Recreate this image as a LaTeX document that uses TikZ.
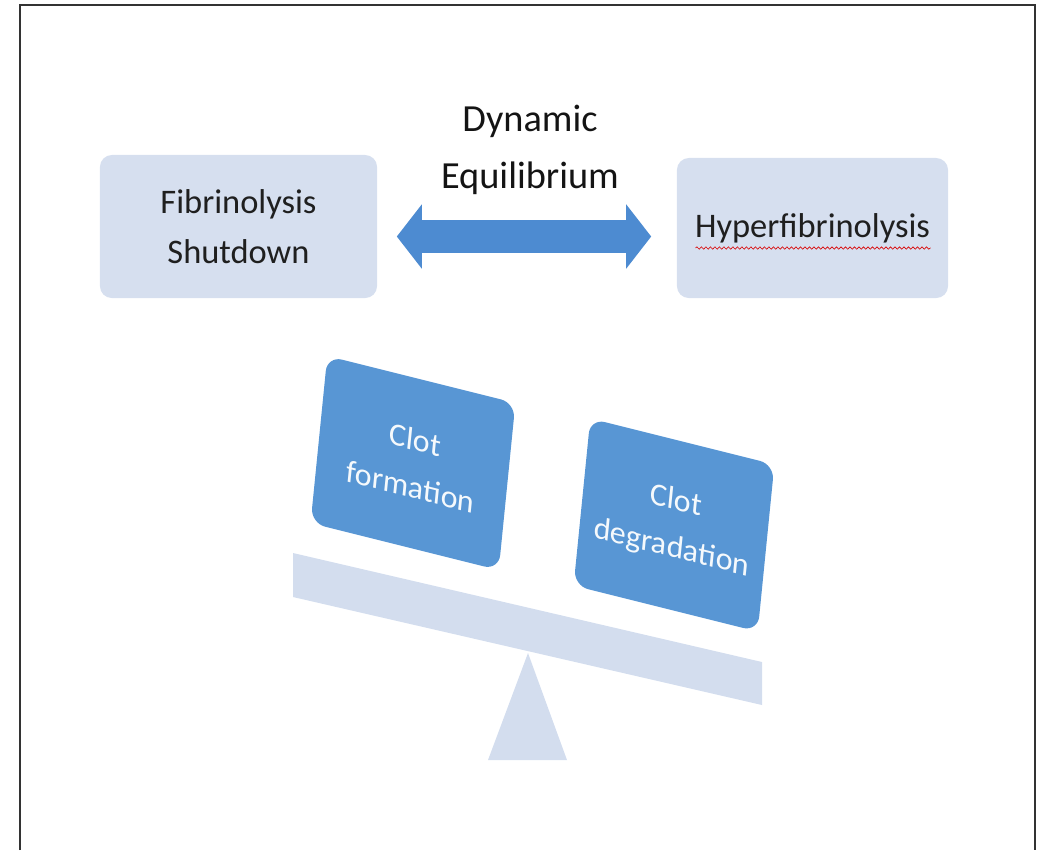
\documentclass[tikz,border=0pt]{standalone}
\usepackage{fontspec}
\setmainfont{Carlito}
\usetikzlibrary{calc, arrows.meta, decorations.pathmorphing}

\definecolor{paleblue}{HTML}{D6DFEF}
\definecolor{beamblue}{HTML}{D3DDEE}
\definecolor{clotblue}{HTML}{5896D4}
\definecolor{arrowblue}{HTML}{4D8BD1}

\begin{document}
\begin{tikzpicture}[x=0.01cm, y=-0.01cm,
    softbox/.style={fill=paleblue, rounded corners=0.12cm, inner sep=0pt, align=center,
        text=black!88, font=\fontsize{9.8}{14.2}\selectfont},
    clotbox/.style={fill=clotblue, rounded corners=0.15cm, inner sep=0pt, align=center,
        minimum width=1.88cm, minimum height=1.67cm, transform shape,
        text=white!94!clotblue, font=\fontsize{9}{13.4}\selectfont}]
    \def\tilt{-0.25}
    \def\lean{0.1}

    \useasboundingbox (0,0) rectangle (1048,850);

    %frame
    \draw[line width=0.02cm, black!80] (20,850) -- (20,4.5) -- (1035,4.5) -- (1035,850);

    %top boxes
    \node[softbox, minimum width=2.77cm, minimum height=1.43cm] (fib) at (238.5,226.5) {Fibrinolysis\\Shutdown};
    \node[softbox, minimum width=2.71cm, minimum height=1.40cm] (hyper) at (812.5,228) {Hyperfibrinolysis};
    \draw[red!85!black, line width=0.006cm, decorate, decoration={snake, amplitude=0.012cm, segment length=0.045cm}]
        (hyper.center) ++(-117,20) -- ++(235,0);

    %double arrow
    \node[inner sep=0pt, align=center, text=black!92, font=\fontsize{10.9}{16.2}\selectfont] (equil) at (530,150) {Dynamic\\Equilibrium};
    \draw[arrowblue, line width=0.33cm,
        {Triangle[length=0.25cm, width=0.63cm]}-{Triangle[length=0.25cm, width=0.63cm]},
        shorten <=0.19cm, shorten >=0.25cm]
        ([yshift=-0.1cm]fib.east) -- ([yshift=-0.1cm]fib.east -| hyper.west);

    %seesaw
    \coordinate (L) at (293,553);
    \fill[beamblue] (L) -- ++(469,109) coordinate (R) -- ++(0,43) -- ++(-469,-108) -- cycle;
    \coordinate (T) at (528,653);
    \fill[beamblue] (T) -- ++(39,107) -- ++(-79,0) -- cycle;

    %weights
    \begin{scope}[shift={(413,463)}, cm={1,\tilt,\lean,1,(0,0)}]
        \node[clotbox] (formation) at (0,0) {Clot\\formation};
    \end{scope}
    \begin{scope}[shift={(674,525)}, cm={1,\tilt,\lean,1,(0,0)}]
        \node[clotbox, minimum width=1.84cm] (degradation) at (0,0) {Clot\\degradation};
    \end{scope}
\end{tikzpicture}
\end{document}
